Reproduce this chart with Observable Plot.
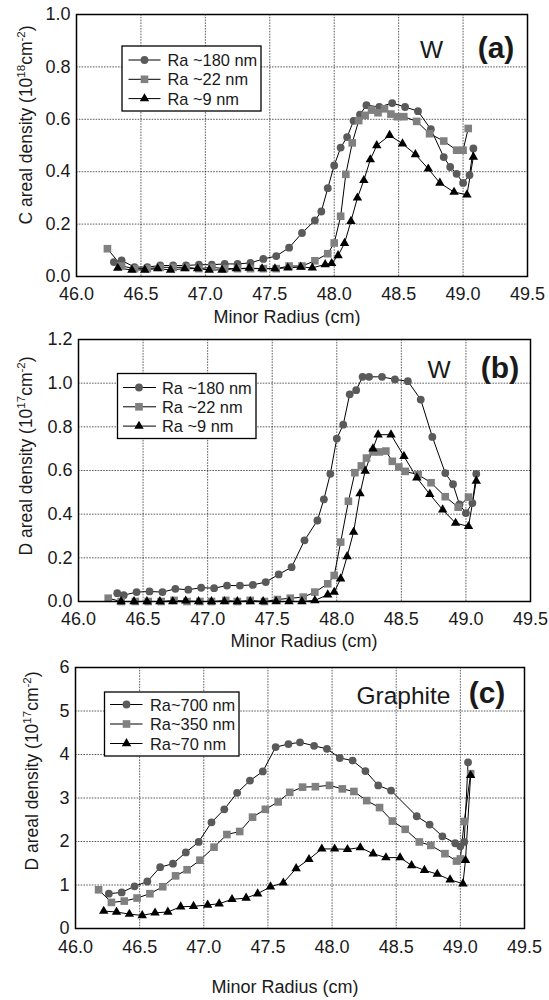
<!DOCTYPE html>
<html><head><meta charset="utf-8">
<script src="https://cdn.jsdelivr.net/npm/d3@7"></script>
<script src="https://cdn.jsdelivr.net/npm/@observablehq/plot@0.6"></script>
<style>
body{margin:0;background:#fff;width:549px;}
#chart svg{display:block;}
</style></head><body><div id="chart"></div>
<script>
// ---- tick values ----
const xTicks = [46.0, 46.5, 47.0, 47.5, 48.0, 48.5, 49.0, 49.5];
const yTicksA = [0, 0.2, 0.4, 0.6, 0.8, 1.0];
const yTicksB = [0, 0.2, 0.4, 0.6, 0.8, 1.0, 1.2];
const yTicksC = [0, 1, 2, 3, 4, 5, 6];

// ---- legend labels / texts ----
const legendW = ["Ra ~180 nm", "Ra ~22 nm", "Ra ~9 nm"];
const legendG = ["Ra~700 nm", "Ra~350 nm", "Ra~70 nm"];
const xTitle = "Minor Radius (cm)";

// ---- panel (a): C areal density, W ----
const aR180 = [[46.29,0.055],[46.35,0.061],[46.45,0.036],[46.55,0.036],[46.65,0.042],[46.75,0.042],[46.85,0.042],[46.95,0.045],[47.05,0.045],[47.15,0.048],[47.25,0.048],[47.35,0.052],[47.45,0.067],[47.55,0.078],[47.65,0.110],[47.75,0.166],[47.85,0.214],[47.90,0.248],[47.95,0.337],[48.00,0.424],[48.05,0.492],[48.10,0.532],[48.15,0.594],[48.20,0.618],[48.25,0.654],[48.35,0.647],[48.45,0.662],[48.55,0.647],[48.65,0.631],[48.75,0.562],[48.85,0.456],[48.90,0.418],[48.95,0.392],[49.00,0.357],[49.05,0.387],[49.08,0.489]];
const aR22 = [[46.24,0.106],[46.35,0.040],[46.45,0.030],[46.55,0.030],[46.65,0.035],[46.75,0.035],[46.85,0.035],[46.95,0.030],[47.05,0.035],[47.15,0.030],[47.25,0.030],[47.35,0.030],[47.45,0.030],[47.55,0.030],[47.65,0.040],[47.75,0.040],[47.85,0.060],[47.95,0.087],[48.00,0.128],[48.05,0.230],[48.09,0.390],[48.14,0.510],[48.19,0.595],[48.24,0.615],[48.29,0.635],[48.34,0.625],[48.39,0.640],[48.44,0.620],[48.49,0.610],[48.54,0.610],[48.64,0.592],[48.74,0.545],[48.85,0.517],[48.95,0.482],[49.00,0.482],[49.04,0.565]];
const aR9 = [[46.32,0.032],[46.43,0.025],[46.53,0.025],[46.63,0.030],[46.73,0.025],[46.84,0.030],[46.94,0.030],[47.03,0.025],[47.13,0.025],[47.24,0.030],[47.34,0.032],[47.44,0.030],[47.54,0.030],[47.64,0.033],[47.74,0.036],[47.83,0.033],[47.93,0.046],[47.98,0.050],[48.03,0.080],[48.08,0.127],[48.13,0.211],[48.18,0.300],[48.23,0.367],[48.28,0.446],[48.33,0.500],[48.43,0.539],[48.53,0.507],[48.63,0.466],[48.73,0.411],[48.82,0.357],[48.93,0.322],[49.03,0.312],[49.08,0.456]];

// ---- panel (b): D areal density, W ----
const bR180 = [[46.30,0.038],[46.35,0.029],[46.45,0.043],[46.55,0.046],[46.65,0.043],[46.75,0.058],[46.85,0.054],[46.95,0.063],[47.05,0.061],[47.15,0.073],[47.25,0.073],[47.35,0.076],[47.45,0.089],[47.55,0.124],[47.65,0.157],[47.75,0.280],[47.85,0.371],[47.90,0.468],[47.95,0.585],[48.00,0.746],[48.05,0.810],[48.10,0.949],[48.15,0.968],[48.20,1.029],[48.25,1.029],[48.35,1.029],[48.45,1.017],[48.55,1.009],[48.65,0.925],[48.74,0.754],[48.84,0.588],[48.90,0.537],[48.95,0.445],[49.00,0.405],[49.05,0.451],[49.08,0.585]];
const bR22 = [[46.23,0.015],[46.33,0.0],[46.44,0.0],[46.54,0.0],[46.64,0.0],[46.74,0.005],[46.84,0.0],[46.94,0.0],[47.03,0.0],[47.14,0.005],[47.23,0.0],[47.33,0.005],[47.44,0.0],[47.54,0.009],[47.64,0.015],[47.74,0.020],[47.83,0.043],[47.93,0.081],[47.98,0.119],[48.03,0.272],[48.09,0.459],[48.14,0.590],[48.19,0.621],[48.23,0.657],[48.28,0.685],[48.33,0.685],[48.38,0.689],[48.43,0.642],[48.48,0.616],[48.53,0.596],[48.63,0.581],[48.73,0.544],[48.84,0.480],[48.94,0.432],[49.02,0.478]];
const bR9 = [[46.33,0.0],[46.43,0.0],[46.53,0.0],[46.63,0.0],[46.73,0.0],[46.83,0.003],[46.93,0.0],[47.03,0.0],[47.13,0.0],[47.23,0.0],[47.33,0.0],[47.43,0.0],[47.53,0.0],[47.63,0.0],[47.73,0.0],[47.83,0.005],[47.93,0.031],[47.98,0.043],[48.03,0.104],[48.08,0.206],[48.13,0.318],[48.18,0.494],[48.22,0.598],[48.28,0.700],[48.32,0.764],[48.42,0.764],[48.52,0.665],[48.62,0.567],[48.72,0.491],[48.82,0.420],[48.92,0.359],[49.02,0.344],[49.08,0.552]];

// ---- panel (c): D areal density, Graphite ----
const cR700 = [[46.26,0.80],[46.36,0.83],[46.46,0.97],[46.56,1.08],[46.66,1.41],[46.76,1.49],[46.86,1.75],[46.96,1.99],[47.06,2.44],[47.16,2.74],[47.26,3.12],[47.36,3.40],[47.46,3.61],[47.56,4.17],[47.66,4.24],[47.75,4.28],[47.86,4.20],[47.96,4.13],[48.06,3.92],[48.16,3.86],[48.26,3.62],[48.36,3.29],[48.46,3.17],[48.66,2.58],[48.76,2.39],[48.86,2.12],[48.96,1.96],[49.00,1.89],[49.03,1.99],[49.06,3.82]];
const cR350 = [[46.18,0.89],[46.28,0.60],[46.38,0.63],[46.48,0.70],[46.58,0.80],[46.68,0.96],[46.78,1.21],[46.87,1.35],[46.97,1.57],[47.08,1.87],[47.18,2.16],[47.28,2.23],[47.38,2.56],[47.48,2.74],[47.58,2.91],[47.67,3.13],[47.77,3.25],[47.87,3.26],[47.98,3.29],[48.08,3.21],[48.17,3.15],[48.27,2.94],[48.37,2.78],[48.47,2.47],[48.57,2.28],[48.68,1.99],[48.77,1.91],[48.88,1.72],[48.97,1.55],[49.00,1.60],[49.03,2.46],[49.08,3.56]];
const cR70 = [[46.22,0.40],[46.32,0.38],[46.42,0.33],[46.52,0.30],[46.62,0.36],[46.72,0.38],[46.82,0.50],[46.92,0.51],[47.03,0.54],[47.12,0.57],[47.22,0.67],[47.33,0.70],[47.42,0.80],[47.52,0.96],[47.62,1.05],[47.72,1.38],[47.82,1.59],[47.92,1.83],[48.02,1.83],[48.12,1.82],[48.22,1.86],[48.32,1.72],[48.42,1.63],[48.53,1.63],[48.62,1.45],[48.72,1.34],[48.82,1.25],[48.92,1.12],[49.02,1.03],[49.04,1.57],[49.08,3.52]];

// ---- marker styles ----
const STY = [
  {symbol: "circle", r: 3.9, fill: "#5a5a5a"},
  {symbol: "square", r: 4.3, fill: "#808080"},
  {symbol: "triangle", r: 3.5, fill: "#000000"}
];
const SYM = {circle: d3.symbolCircle, square: d3.symbolSquare, triangle: d3.symbolTriangle};
const FONT = "'Liberation Sans', Arial, Helvetica, sans-serif";

function panel(cfg) {
  const {height, mt, mb, ml, mr, yDomain, yTicks, yFmt, series, pageTop} = cfg;
  const marks = [
    Plot.gridX(xTicks, {stroke: "#000", strokeOpacity: 0.8, strokeWidth: 0.8, strokeDasharray: "1.6,1.2"}),
    Plot.gridY(yTicks, {stroke: "#000", strokeOpacity: 0.8, strokeWidth: 0.8, strokeDasharray: "1.6,1.2"}),
    Plot.axisX(xTicks, {tickSize: 0, tickPadding: cfg.xPad, tickFormat: d => d.toFixed(1), label: null, fontSize: 18}),
    Plot.axisY(yTicks, {tickSize: 0, tickPadding: 6, tickFormat: yFmt, label: null, fontSize: 18})
  ];
  series.forEach(s => marks.push(Plot.line(s, {x: d => d[0], y: d => d[1], stroke: "#000", strokeWidth: 1})));
  series.forEach((s, i) => marks.push(Plot.dot(s, {x: d => d[0], y: d => d[1], symbol: STY[i].symbol, r: STY[i].r, fill: STY[i].fill, stroke: "none"})));
  marks.push(Plot.frame({stroke: "#000", strokeWidth: 1.5}));
  const svg = Plot.plot({
    width: 549, height,
    marginTop: mt, marginBottom: mb, marginLeft: ml, marginRight: mr,
    style: {fontFamily: FONT, fontSize: "18px", color: "#1a1a1a", background: "#fff"},
    x: {domain: [46, 49.5]},
    y: {domain: yDomain},
    marks
  });
  const g = d3.select(svg).append("g").attr("font-family", FONT).attr("fill", "#1a1a1a");
  const bottom = height - mb;
  // x title
  g.append("text").attr("x", cfg.xTitleX).attr("y", bottom + cfg.xTitleOff)
    .attr("text-anchor", "middle").attr("font-size", 18).text(xTitle);
  // y title with superscripts
  const yt = g.append("text").attr("text-anchor", "middle").attr("font-size", 17.5)
    .attr("transform", `translate(${cfg.yTitle.x},${cfg.yTitle.y - pageTop}) rotate(-90)`);
  yt.append("tspan").text(cfg.yTitle.lead + " (10");
  yt.append("tspan").attr("font-size", 11.5).attr("dy", -7.5).text(cfg.yTitle.exp);
  yt.append("tspan").attr("dy", 7.5).text("cm");
  yt.append("tspan").attr("font-size", 11.5).attr("dy", -7.5).text("-2");
  yt.append("tspan").attr("dy", 7.5).text(")");
  // legend
  const L = cfg.legend;
  const lg = g.append("g").attr("transform", `translate(${L.x},${L.y - pageTop})`);
  lg.append("rect").attr("width", L.w).attr("height", L.h).attr("fill", "#fff").attr("stroke", "#000").attr("stroke-width", 1.3);
  L.labels.forEach((lab, i) => {
    const yy = L.row0 + i * L.dy;
    lg.append("line").attr("x1", L.lx1).attr("x2", L.lx2).attr("y1", yy).attr("y2", yy).attr("stroke", "#000").attr("stroke-width", 1);
    lg.append("path").attr("transform", `translate(${L.mx},${yy})`)
      .attr("d", d3.symbol(SYM[STY[i].symbol], Math.PI * STY[i].r * STY[i].r)()).attr("fill", STY[i].fill);
    lg.append("text").attr("x", L.tx).attr("y", yy + 6).attr("text-anchor", "start").attr("font-size", 16.4).text(lab);
  });
  // tags
  g.append("text").attr("x", cfg.mat.x).attr("y", cfg.mat.y - pageTop).attr("text-anchor", "middle")
    .attr("font-size", 24.5).text(cfg.mat.text);
  g.append("text").attr("x", cfg.tag.x).attr("y", cfg.tag.y - pageTop).attr("text-anchor", "middle")
    .attr("font-size", 30).attr("font-weight", "bold").text(cfg.tag.text);
  return svg;
}

const root = document.getElementById("chart");
root.append(panel({
  pageTop: 0, height: 326, mt: 14, mb: 50, ml: 76, mr: 22, xPad: 11, xTitleOff: 46.5, xTitleX: 287,
  yDomain: [0, 1.0], yTicks: yTicksA, yFmt: d => d.toFixed(1), series: [aR180, aR22, aR9],
  yTitle: {x: 32, y: 125, lead: "C areal density", exp: "18"},
  legend: {x: 122, y: 46, w: 139, h: 65, row0: 14, dy: 19.3, lx1: 6.5, lx2: 38.5, mx: 22.5, tx: 45.5, labels: legendW},
  mat: {x: 431.5, y: 58, text: "W"}, tag: {x: 496, y: 58, text: "(a)"}
}));
root.append(panel({
  pageTop: 326, height: 326, mt: 13, mb: 51, ml: 78, mr: 19, xPad: 11, xTitleOff: 46, xTitleX: 304,
  yDomain: [0, 1.2], yTicks: yTicksB, yFmt: d => d.toFixed(1), series: [bR180, bR22, bR9],
  yTitle: {x: 32, y: 456, lead: "D areal density", exp: "17"},
  legend: {x: 117.5, y: 373.5, w: 138.5, h: 65, row0: 14, dy: 19.3, lx1: 5.5, lx2: 38.5, mx: 21.5, tx: 44.5, labels: legendW},
  mat: {x: 439, y: 378, text: "W"}, tag: {x: 500, y: 378, text: "(b)"}
}));
root.append(panel({
  pageTop: 652, height: 348, mt: 15, mb: 72, ml: 75, mr: 25, xPad: 12, xTitleOff: 65, xTitleX: 285,
  yDomain: [0, 6], yTicks: yTicksC, yFmt: d => String(d), series: [cR700, cR350, cR70],
  yTitle: {x: 38, y: 771, lead: "D areal density", exp: "17"},
  legend: {x: 104.5, y: 692, w: 134.5, h: 64, row0: 12.5, dy: 19.5, lx1: 5.5, lx2: 38, mx: 22, tx: 45.5, labels: legendG},
  mat: {x: 403.5, y: 704, text: "Graphite"}, tag: {x: 487, y: 703, text: "(c)"}
}));
</script></body></html>
